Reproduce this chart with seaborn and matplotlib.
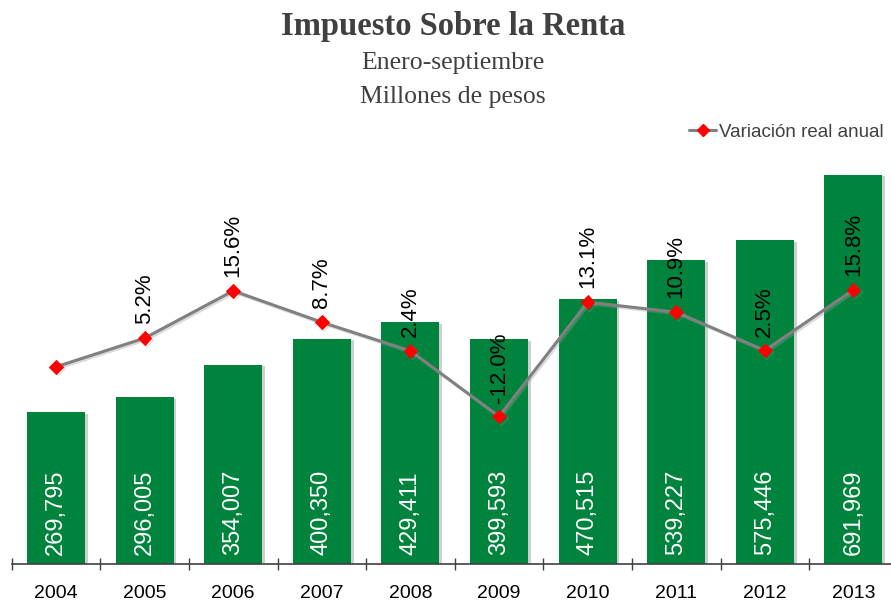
import numpy as np
import pandas as pd
import matplotlib
matplotlib.use("Agg")
import matplotlib.pyplot as plt
import matplotlib.patheffects as pe
from matplotlib.ticker import FixedLocator, NullFormatter
from matplotlib.lines import Line2D
import seaborn as sns

# ---- data ----
years = ["2004", "2005", "2006", "2007", "2008", "2009", "2010", "2011", "2012", "2013"]
isr = [269795, 296005, 354007, 400350, 429411, 399593, 470515, 539227, 575446, 691969]
variacion = [-1.1, 5.2, 15.6, 8.7, 2.4, -12.0, 13.1, 10.9, 2.5, 15.8]
variacion_labels = ["", "5.2%", "15.6%", "8.7%", "2.4%", "-12.0%", "13.1%", "10.9%", "2.5%", "15.8%"]

title = "Impuesto Sobre la Renta"
subtitle1 = "Enero-septiembre"
subtitle2 = "Millones de pesos"
legend_label = "Variación real anual"

sns.set_theme(style="white")
plt.rcParams["font.family"] = ["Liberation Sans", "DejaVu Sans"]

W, H = 891, 601
fig = plt.figure(figsize=(W / 100, H / 100), dpi=100)

# axes placement in pixels
left_px, right_px = 11.7, 897.7
bottom_px, top_px = 563.5, 150.0
ax = fig.add_axes([left_px / W, (H - bottom_px) / H, (right_px - left_px) / W, (bottom_px - top_px) / H])

df = pd.DataFrame({"year": years, "isr": isr})
green = "#00843D"
sns.barplot(data=df, x="year", y="isr", color=green, width=0.655, ax=ax,
            saturation=1, edgecolor="none")
for p in ax.patches:
    p.set_path_effects([pe.SimplePatchShadow(offset=(2.0, -1.2), shadow_rgbFace="#777777", alpha=0.35),
                        pe.Normal()])

px_per_unit = 0.000562
ax.set_ylim(0, (bottom_px - top_px) / px_per_unit)
ax.set_xlim(-0.5, 9.5)

# bar value labels
for i, v in enumerate(isr):
    ax.annotate(f"{v:,}", xy=(i, 0), xytext=(0, 6), textcoords="offset points",
                rotation=90, ha="center", va="bottom", color="white", fontsize=17)

# axis styling
for s in ["top", "right", "left"]:
    ax.spines[s].set_visible(False)
ax.spines["bottom"].set_color("#404040")
ax.spines["bottom"].set_linewidth(1.2)
ax.set_yticks([])
ax.set_xlabel("")
ax.set_ylabel("")
ax.tick_params(axis="x", which="major", length=0, pad=15.5, labelsize=14, labelcolor="black")
ax.xaxis.set_minor_locator(FixedLocator(np.arange(-0.5, 10.0, 1.0)))
ax.xaxis.set_minor_formatter(NullFormatter())
ax.tick_params(axis="x", which="minor", direction="inout", length=8.5, width=1.0, color="#404040", bottom=True)

# secondary axis: variation line
ax2 = ax.twinx()
zero_px, px_per_pct = 361.8, 4.55
ax2.set_ylim(-(bottom_px - zero_px) / px_per_pct, (zero_px - top_px) / px_per_pct)
sns.lineplot(x=np.arange(len(years)), y=variacion, ax=ax2, color="#808080", linewidth=2.2,
             marker="D", markersize=7, markerfacecolor="red", markeredgecolor="red", legend=False)
for ln in ax2.lines:
    ln.set_path_effects([pe.SimpleLineShadow(offset=(1.2, -1.2), shadow_color="#999999", alpha=0.35),
                         pe.Normal()])
ax2.set_xlim(-0.5, 9.5)
for s in ["top", "right", "left", "bottom"]:
    ax2.spines[s].set_visible(False)
ax2.set_yticks([])
ax2.set_ylabel("")
for i, (v, lab) in enumerate(zip(variacion, variacion_labels)):
    if lab:
        ax2.annotate(lab, xy=(i, v), xytext=(0, 10), textcoords="offset points",
                     rotation=90, ha="center", va="bottom", color="black", fontsize=16)

# legend
handle = Line2D([0], [0], color="#808080", linewidth=2.2, marker="D", markersize=6,
                markerfacecolor="red", markeredgecolor="red")
fig.legend([handle], [legend_label], loc="center right", bbox_to_anchor=(884 / W, (H - 132) / H),
           frameon=False, fontsize=13.5, handlelength=1.4, handletextpad=0.2,
           borderpad=0, borderaxespad=0, labelcolor="#404040")

# titles
serif = ["Liberation Serif", "DejaVu Serif"]
fig.text(453 / W, 1 - 27 / H, title, ha="center", va="center", fontsize=23.5,
         fontweight="bold", family=serif, color="#404040")
fig.text(453 / W, 1 - 63 / H, subtitle1, ha="center", va="center", fontsize=18.5,
         family=serif, color="#404040")
fig.text(453 / W, 1 - 97 / H, subtitle2, ha="center", va="center", fontsize=18.5,
         family=serif, color="#404040")

fig.savefig("out.png", dpi=100)
